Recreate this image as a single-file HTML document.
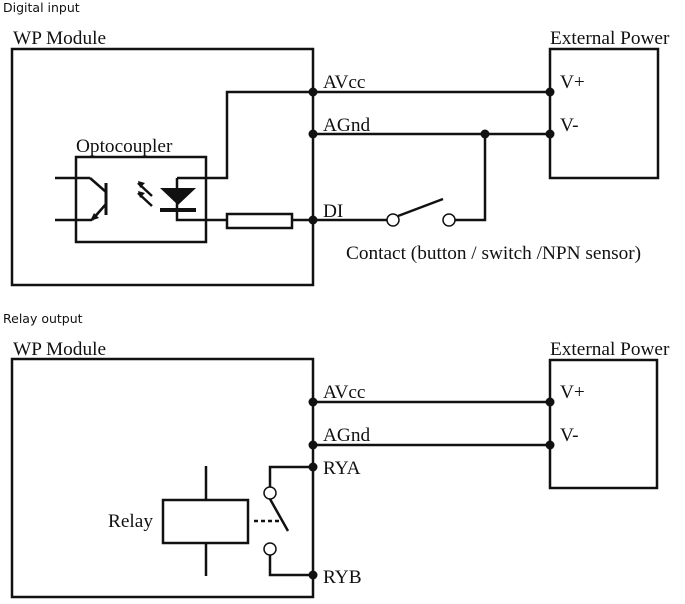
<!DOCTYPE html>
<html><head><meta charset="utf-8"><style>
html,body{margin:0;padding:0;background:#fff;}
svg{display:block;}
.s{font-family:"DejaVu Sans","Liberation Sans",sans-serif;font-size:12.5px;fill:#111;}
.t{font-family:"Liberation Serif",serif;font-size:19.3px;fill:#111;}
</style></head><body>
<svg width="685" height="604" viewBox="0 0 685 604" xmlns="http://www.w3.org/2000/svg">
<g fill="none" stroke="#111" stroke-width="2.5">
<rect x="12" y="49" width="301" height="236"/>
<rect x="550" y="49" width="108" height="129"/>
<polyline points="177,178 227,178 227,92 550,92"/>
<line x1="313" y1="134" x2="550" y2="134"/>
<polyline points="177,178 177,220 227,220"/>
<rect x="227" y="214" width="65" height="14"/>
<line x1="292" y1="220" x2="387" y2="220"/>
<polyline points="455,220 485,220 485,134"/>
<line x1="398" y1="216" x2="443" y2="199"/>
<rect x="76" y="157" width="130" height="85"/>
<line x1="55" y1="178" x2="90" y2="178"/>
<line x1="55" y1="220" x2="92" y2="220"/>
<line x1="90" y1="178" x2="106" y2="192"/>
<line x1="106" y1="204" x2="92" y2="220"/>
<line x1="106" y1="183" x2="106" y2="215" stroke-width="3"/>
<line x1="138" y1="183" x2="152" y2="196"/>
<line x1="138" y1="193" x2="152" y2="206"/>
<line x1="160" y1="210" x2="196" y2="210" stroke-width="4"/>
<rect x="12" y="359" width="301" height="238"/>
<rect x="550" y="360" width="107" height="128"/>
<line x1="313" y1="402" x2="550" y2="402"/>
<line x1="313" y1="445" x2="550" y2="445"/>
<polyline points="313,467 270,467 270,487"/>
<polyline points="313,575 270,575 270,555"/>
<line x1="270" y1="499" x2="288" y2="531"/>
<line x1="254" y1="521" x2="283" y2="521" stroke-dasharray="4,3"/>
<rect x="163" y="500" width="85" height="43"/>
<line x1="206" y1="466" x2="206" y2="500"/>
<line x1="206" y1="543" x2="206" y2="576"/>
</g>
<g fill="#fff" stroke="#111" stroke-width="1.5">
<circle cx="393" cy="220" r="6"/><circle cx="449" cy="220" r="6"/>
<circle cx="270" cy="493" r="6"/><circle cx="270" cy="549" r="6"/>
</g>
<g fill="#111">
<polygon points="160,188 196,188 178,205"/>
<polygon points="138,181 145,183 140,188"/>
<polygon points="138,191 145,193 140,198"/>
<polygon points="90,221 94,213 99,218"/>
<circle cx="313" cy="92" r="4.5"/><circle cx="550" cy="92" r="4.5"/>
<circle cx="313" cy="134" r="4.5"/><circle cx="485" cy="134" r="4.5"/><circle cx="550" cy="134" r="4.5"/>
<circle cx="313" cy="220" r="4.5"/>
<circle cx="313" cy="402" r="4.5"/><circle cx="550" cy="402" r="4.5"/>
<circle cx="313" cy="445" r="4.5"/><circle cx="550" cy="445" r="4.5"/>
<circle cx="313" cy="467" r="4.5"/><circle cx="313" cy="575" r="4.5"/>
</g>
<text class="s" x="3" y="12">Digital input</text>
<text class="t" x="13" y="44">WP Module</text>
<text class="t" x="550" y="44">External Power</text>
<text class="t" x="323" y="88">AVcc</text>
<text class="t" x="323" y="131">AGnd</text>
<text class="t" x="323" y="217">DI</text>
<text class="t" x="560" y="88">V+</text>
<text class="t" x="560" y="131">V-</text>
<text class="t" x="76" y="152">Optocoupler</text>
<text class="t" x="346" y="259">Contact (button / switch /NPN sensor)</text>
<text class="s" x="3" y="323">Relay output</text>
<text class="t" x="13" y="355">WP Module</text>
<text class="t" x="550" y="355">External Power</text>
<text class="t" x="323" y="398">AVcc</text>
<text class="t" x="323" y="441">AGnd</text>
<text class="t" x="323" y="474">RYA</text>
<text class="t" x="323" y="583">RYB</text>
<text class="t" x="560" y="398">V+</text>
<text class="t" x="560" y="441">V-</text>
<text class="t" x="108" y="527">Relay</text>
</svg>
</body></html>
